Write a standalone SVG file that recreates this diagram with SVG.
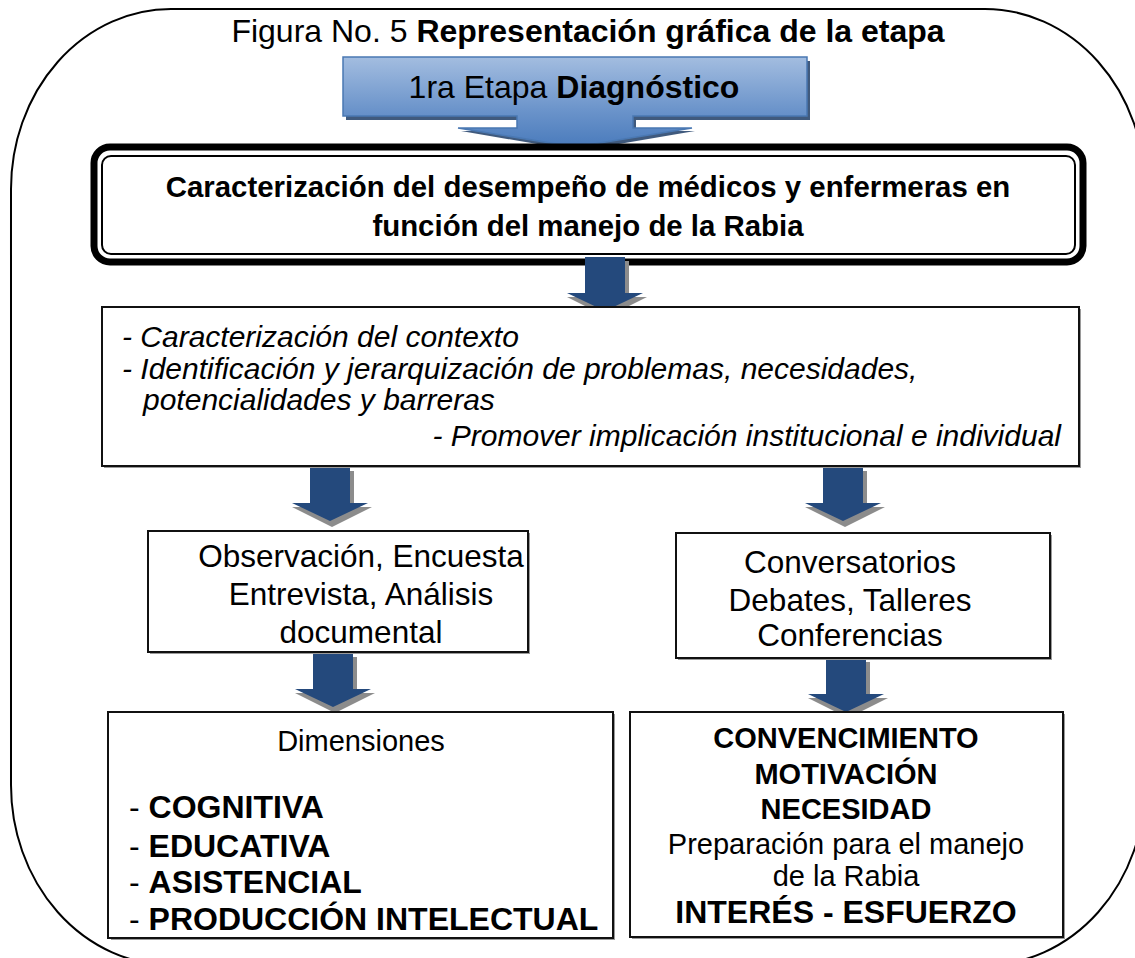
<svg xmlns="http://www.w3.org/2000/svg" width="1135" height="958" viewBox="0 0 1135 958">
<style>
text{font-family:"Liberation Sans",Arial,sans-serif;fill:#000}
.b{font-weight:bold}
.it{font-style:italic}
.box{fill:#fff;stroke:#111;stroke-width:2}
.sh{fill:#9a9a9a}
.arr{fill:#24497c}
.arrsh{fill:#8c8c8c}
</style>
<defs>
<linearGradient id="bg" x1="0" y1="0" x2="0" y2="1">
<stop offset="0" stop-color="#a3bde0"/>
<stop offset="0.6" stop-color="#6a93ca"/>
<stop offset="1" stop-color="#4a7bbc"/>
</linearGradient>
<g id="darr">
<path class="arrsh" d="M-16,4 h40 v36 h18 l-40,20 l-40,-20 h22 z"/>
<path class="arr" d="M-20,0 h40 v36 h18 l-38,18 l-38,-18 h18 z"/>
</g>
</defs>
<rect x="11" y="9" width="1134" height="956" rx="160" ry="180" fill="#fff" stroke="#000" stroke-width="2"/>
<g id="title">
<text x="588" y="42" font-size="32" text-anchor="middle">Figura No. 5 <tspan class="b">Representación gráfica de la etapa</tspan></text>
</g>
<g id="banner">
<path d="M346,61 H810 V120 H636 V131 H695 L578,151 L461,131 H520 V120 H346 Z" fill="#1f3d66" opacity="0.85"/>
<path d="M343,57 H807 V116 H633 V128 H692 L575,147 L458,128 H517 V116 H343 Z" fill="url(#bg)" stroke="#4a78b2" stroke-width="1.5"/>
<text x="574" y="98" font-size="32" text-anchor="middle">1ra Etapa <tspan class="b">Diagnóstico</tspan></text>
</g>
<g id="caracterizacion">
<rect x="94" y="147" width="989" height="115" rx="16" fill="#fff" stroke="#000" stroke-width="7"/>
<rect x="102" y="156" width="973" height="98" rx="9" fill="none" stroke="#000" stroke-width="2"/>
<text class="b" x="588" y="197" font-size="29.4" text-anchor="middle">Caracterización del desempeño de médicos y enfermeras en</text>
<text class="b" x="588" y="236" font-size="29.4" text-anchor="middle">función del manejo de la Rabia</text>
</g>
<g id="connectors">
<use href="#darr" x="605" y="257"/>
<use href="#darr" x="330" y="467"/>
<use href="#darr" x="843" y="467"/>
<use href="#darr" x="333" y="653"/>
<use href="#darr" x="846" y="658"/>
</g>
<g id="acciones">
<rect class="sh" x="104" y="309" width="977" height="159"/>
<rect class="box" x="102" y="307" width="977" height="159"/>
<text class="it" x="122" y="347" font-size="30">- Caracterización del contexto</text>
<text class="it" x="122" y="379" font-size="30">- Identificación y jerarquización de problemas, necesidades,</text>
<text class="it" x="143" y="410" font-size="30">potencialidades y barreras</text>
<text class="it" x="1061" y="446" font-size="30" text-anchor="end">- Promover implicación institucional e individual</text>
</g>
<g id="metodos">
<rect class="sh" x="150" y="533" width="380" height="121"/>
<rect class="box" x="148" y="531" width="380" height="121"/>
<text x="361" y="567" font-size="31.5" text-anchor="middle">Observación, Encuesta</text>
<text x="361" y="605" font-size="31.5" text-anchor="middle">Entrevista, Análisis</text>
<text x="361" y="643" font-size="31.5" text-anchor="middle">documental</text>
</g>
<g id="actividades">
<rect class="sh" x="678" y="535" width="374" height="125"/>
<rect class="box" x="676" y="533" width="374" height="125"/>
<text x="850" y="573" font-size="31.5" text-anchor="middle">Conversatorios</text>
<text x="850" y="611" font-size="31.5" text-anchor="middle">Debates, Talleres</text>
<text x="850" y="646" font-size="31.5" text-anchor="middle">Conferencias</text>
</g>
<g id="dimensiones">
<rect class="sh" x="111" y="714" width="504" height="226"/>
<rect class="box" x="108" y="712" width="505" height="226"/>
<text x="361" y="751" font-size="29" text-anchor="middle">Dimensiones</text>
<text x="129" y="818" font-size="32">- <tspan class="b">COGNITIVA</tspan></text>
<text x="129" y="857" font-size="32">- <tspan class="b">EDUCATIVA</tspan></text>
<text x="129" y="893" font-size="32">- <tspan class="b">ASISTENCIAL</tspan></text>
<text x="129" y="930" font-size="32">- <tspan class="b">PRODUCCIÓN INTELECTUAL</tspan></text>
</g>
<g id="resultados">
<rect class="sh" x="632" y="714" width="433" height="225"/>
<rect class="box" x="630" y="712" width="433" height="225"/>
<text class="b" x="846" y="748" font-size="29" text-anchor="middle">CONVENCIMIENTO</text>
<text class="b" x="846" y="784" font-size="29" text-anchor="middle">MOTIVACIÓN</text>
<text class="b" x="846" y="819" font-size="29" text-anchor="middle">NECESIDAD</text>
<text x="846" y="854" font-size="29" text-anchor="middle">Preparación para el manejo</text>
<text x="846" y="886" font-size="29" text-anchor="middle">de la Rabia</text>
<text class="b" x="846" y="923" font-size="32" text-anchor="middle">INTERÉS - ESFUERZO</text>
</g>
</svg>
